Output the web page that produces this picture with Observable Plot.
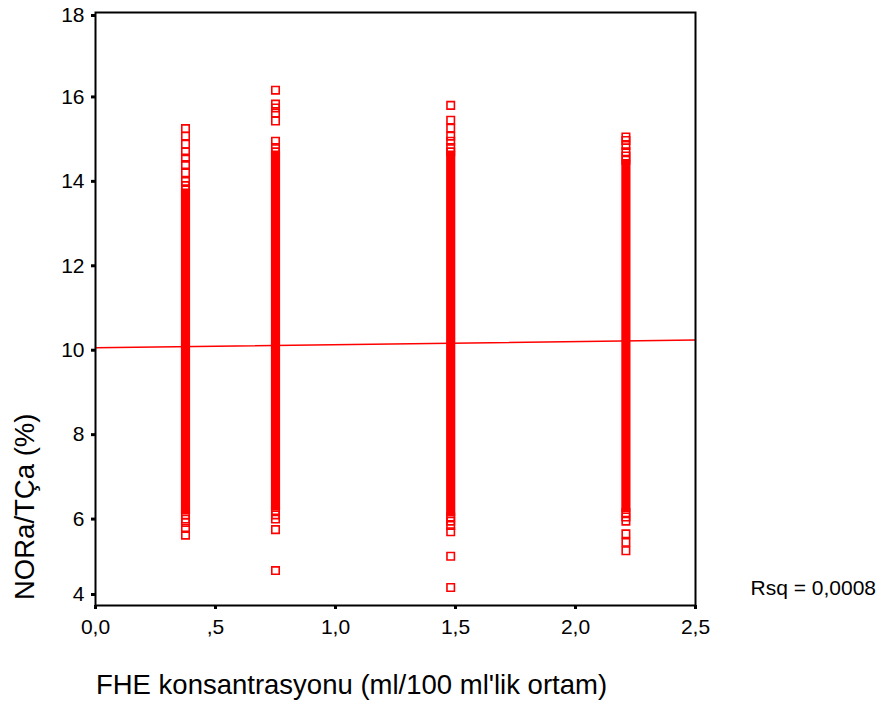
<!DOCTYPE html>
<html>
<head>
<meta charset="utf-8">
<script src="https://cdn.jsdelivr.net/npm/d3@7"></script>
<script src="https://cdn.jsdelivr.net/npm/@observablehq/plot@0.6"></script>
<style>
  html, body { margin: 0; padding: 0; background: #fff; }
  #chart { width: 885px; height: 715px; }
</style>
</head>
<body>
<div id="chart"></div>
<script>
// FHE concentration groups (x positions of the four point columns)
const columnX = [0.375, 0.75, 1.48, 2.21];

// Dense part of each column (overlapping squares form a solid band)
const coreLow  = [6.1, 6.2, 6.05, 6.15];
const coreHigh = [13.8, 14.7, 14.7, 14.5];

// Separately visible points of each column (above and below the dense band)
const col1Points = [6.1, 13.8, 13.9, 14.0, 14.2, 14.4, 14.55, 14.7, 14.88, 15.07, 15.25, 6.0, 5.92, 5.78, 5.62];
const col2Points = [6.2, 14.7, 14.8, 14.95, 15.43, 15.62, 15.74, 15.83, 16.16, 6.1, 6.0, 5.75, 4.78];
const col3Points = [6.05, 14.7, 14.8, 14.95, 15.07, 15.26, 15.45, 15.8, 5.95, 5.85, 5.7, 5.12, 4.38];
const col4Points = [6.15, 14.5, 14.6, 14.7, 14.85, 14.97, 15.05, 6.05, 5.95, 5.65, 5.45, 5.25];

// Linear fit line
const fitX = [0, 2.5];
const fitY = [10.06, 10.24];

const xTicks = [0, 0.5, 1.0, 1.5, 2.0, 2.5];
const xTickLabels = ["0,0", ",5", "1,0", "1,5", "2,0", "2,5"];
const yTicksMid = [6, 8, 10, 12, 14, 16];
const yTickTop = [18];
const yTickBottom = [4];

const xLabel = "FHE konsantrasyonu (ml/100 ml'lik ortam)";
const yLabel = "NORa/TÇa (%)";
const rsqLabel = "Rsq = 0,0008";

const columnPoints = [col1Points, col2Points, col3Points, col4Points];
const points = [];
columnPoints.forEach((vals, i) => vals.forEach(v => points.push({x: columnX[i], y: v})));
const cores = columnX.map((x, i) => ({x, y1: coreLow[i], y2: coreHigh[i]}));
const fit = fitX.map((x, i) => ({x, y: fitY[i]}));

const red = "#ff0000";
const font = "'Liberation Sans', Arial, Helvetica, sans-serif";
const yAxisOpts = {tickSize: 4, strokeWidth: 3, tickPadding: 7, fontSize: 21, label: null};

const chart = Plot.plot({
  width: 885,
  height: 715,
  marginLeft: 95,
  marginRight: 190,
  marginTop: 12,
  marginBottom: 110,
  style: {fontFamily: font, fontSize: "21px", color: "black", background: "white"},
  x: {domain: [0, 2.5], label: null},
  y: {domain: [3.953, 18], label: null},
  marks: [
    Plot.axisX({ticks: xTicks, tickFormat: (d) => xTickLabels[xTicks.indexOf(d)], tickSize: 4, strokeWidth: 3, tickPadding: 10, fontSize: 21, label: null}),
    Plot.axisY({...yAxisOpts, ticks: yTicksMid}),
    Plot.axisY({...yAxisOpts, ticks: yTickTop, textStroke: "none", dy: 3}),
    Plot.axisY({...yAxisOpts, ticks: yTickBottom, dy: -9}),
    Plot.ruleX(cores, {x: "x", y1: "y1", y2: "y2", stroke: red, strokeWidth: 9.2}),
    Plot.dot(points, {x: "x", y: "y", symbol: "square", r: 4.2, stroke: red, fill: "none", strokeWidth: 1.6}),
    Plot.line(fit, {x: "x", y: "y", stroke: red, strokeWidth: 1.5}),
    Plot.frame({stroke: "black", strokeWidth: 2}),
    Plot.text([xLabel], {frameAnchor: "bottom", text: d => d, dx: -44, dy: 88, fontSize: 27.5, fill: "black"}),
    Plot.text([yLabel], {frameAnchor: "left", text: d => d, rotate: -90, dx: -70, dy: 291, fontSize: 27.5, fill: "black"}),
    Plot.text([rsqLabel], {frameAnchor: "bottom-right", text: d => d, textAnchor: "start", dx: 55, dy: -11, fontSize: 21, fill: "black"})
  ]
});
document.getElementById("chart").appendChild(chart);
</script>
</body>
</html>
